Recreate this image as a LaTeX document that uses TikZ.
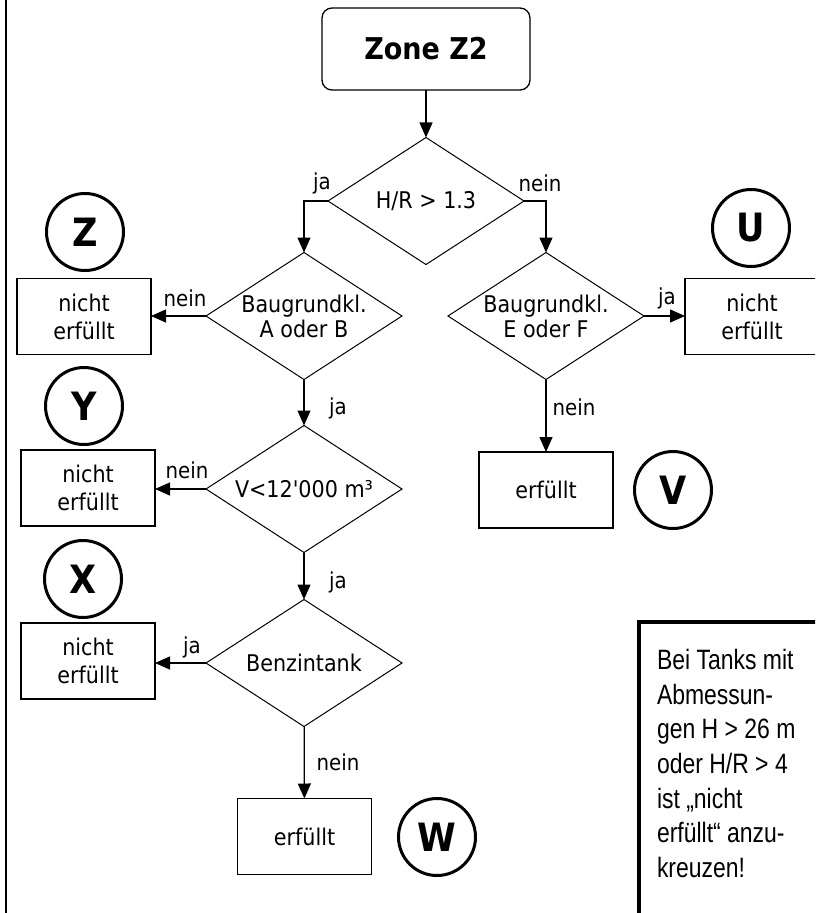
\documentclass[tikz,border=0pt]{standalone}
\usepackage{fontspec}
\setmainfont{DejaVu Sans Condensed}[Ligatures=TeXOff]
\newfontfamily\notefont{Liberation Sans}[FakeStretch=0.82]
\usetikzlibrary{shapes.geometric,arrows.meta}

\begin{document}
\begin{tikzpicture}[x=1pt, y=-1pt]
\tikzset{ >={Triangle[length=15pt,width=13pt]}, inner sep=0pt, outer sep=0pt,
  frage/.style={draw, diamond, aspect=1.53, minimum width=196pt, minimum height=127pt,
    line width=1pt, align=center, font=\fontsize{23}{25}\selectfont},
  ergebnis/.style={draw, rectangle, minimum width=134pt, minimum height=76pt,
    line width=1.5pt, align=center, font=\fontsize{23}{28}\selectfont},
  marke/.style={draw, circle, minimum size=77pt, line width=3pt,
    font=\bfseries\fontsize{39}{39}\selectfont},
  antwort/.style={font=\fontsize{22}{22}\selectfont},
  pfeil/.style={->, line width=1.3pt},
}
\useasboundingbox (0,0) rectangle (815,913);
\clip (0,0) rectangle (815,913);
%\draw [lightgray, dashed](0,0) grid[step=50] (815,913);

\draw [line width=2pt] (6,0) -- (6,913);

\node [draw, rectangle, rounded corners=10pt, minimum width=208pt, minimum height=82pt,
  line width=1.3pt, font=\bfseries\fontsize{30}{30}\selectfont] (START) at (426,49) {Zone Z2};

\node [frage] (D1) at (426,201) {H/R > 1.3};
\node [frage] (D2) at (304,316) {Baugrundkl.\\A oder B};
\node [frage] (D3) at (546,316) {Baugrundkl.\\E oder F};
\node [frage] (D4) at (304,489) {V<12'000 m³};
\node [frage] (D5) at (304,663) {Benzintank};

\node [ergebnis] (BZ) at (84,316.5) {nicht\\erfüllt};
\node [ergebnis] (BU) at (752,316.5) {nicht\\erfüllt};
\node [ergebnis] (BY) at (88,488) {nicht\\erfüllt};
\node [ergebnis] (BV) at (546,490) {erfüllt};
\node [ergebnis] (BX) at (88,661) {nicht\\erfüllt};
\node [ergebnis] (BW) at (304.5,836.5) {erfüllt};

\node [marke] (MZ) at (85,232) {Z};
\node [marke] (MU) at (751,228) {U};
\node [marke] (MY) at (84,406) {Y};
\node [marke] (MV) at (673,490) {V};
\node [marke] (MX) at (83,579) {X};
\node [marke] (MW) at (437,837) {W};

\draw [pfeil] (START) -- (D1);
\draw [pfeil] (D1.west) -| (D2.north);
\draw [pfeil] (D1.east) -| (D3.north);
\draw [pfeil] (D2.west) -- (D2.west -| BZ.east);
\draw [pfeil] (D3.east) -- (D3.east -| BU.west);
\draw [pfeil] (D2) -- (D4);
\draw [pfeil] (D3) -- (BV);
\draw [pfeil] (D4.west) -- (D4.west -| BY.east);
\draw [pfeil] (D4) -- (D5);
\draw [pfeil] (D5.west) -- (D5.west -| BX.east);
\draw [pfeil] (D5) -- (BW);

\node [antwort] at (322,183) {ja};
\node [antwort] at (540,183) {nein};
\node [antwort] at (185,298) {nein};
\node [antwort] at (667,298) {ja};
\node [antwort] at (338,408) {ja};
\node [antwort] at (574,407) {nein};
\node [antwort] at (187,470) {nein};
\node [antwort] at (338,582) {ja};
\node [antwort] at (192,647) {ja};
\node [antwort] at (338,762) {nein};

% Hinweis
\node [draw, rectangle, line width=4pt, anchor=north west, minimum width=220pt,
  minimum height=330pt] (HINWEIS) at (639,622) {};
\node [anchor=north west, align=left, font=\notefont\fontsize{28}{34.7}\selectfont]
  (HTEXT) at (657,649) {Bei Tanks mit\\Abmessun-\\gen H > 26 m\\oder H/R > 4\\ist „nicht\\erfüllt“ anzu-\\kreuzen!};

\end{tikzpicture}
\end{document}
